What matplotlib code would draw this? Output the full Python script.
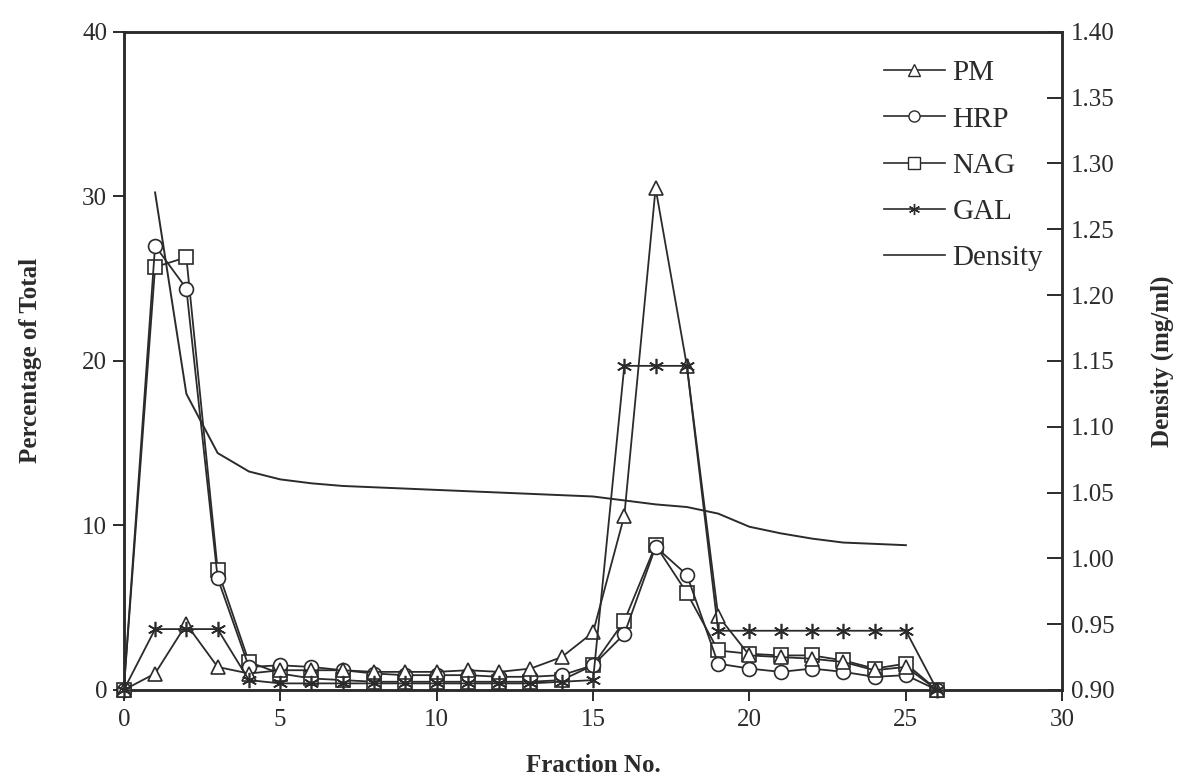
import matplotlib
matplotlib.use("Agg")
import matplotlib.pyplot as plt
from matplotlib.lines import Line2D

plt.rcParams['font.family'] = ['Liberation Serif', 'DejaVu Serif']

# Fraction numbers of the gradient
fractions = list(range(0, 27))

# Percentage of total activity per fraction
pm = [0, 1.0, 4.0, 1.4, 1.0, 1.2, 1.2, 1.2, 1.1, 1.1, 1.1, 1.2, 1.1, 1.3,
      2.0, 3.5, 10.6, 30.5, 19.7, 4.5, 2.1, 2.0, 1.9, 1.7, 1.2, 1.4, 0]
hrp = [0, 27.0, 24.4, 6.8, 1.4, 1.5, 1.4, 1.2, 1.0, 0.9, 0.9, 0.9, 0.8, 0.8,
       0.9, 1.5, 3.4, 8.7, 7.0, 1.6, 1.3, 1.1, 1.3, 1.1, 0.8, 0.9, 0]
nag = [0, 25.7, 26.3, 7.3, 1.7, 1.0, 0.7, 0.6, 0.5, 0.5, 0.5, 0.5, 0.5, 0.5,
       0.6, 1.5, 4.2, 8.8, 5.9, 2.4, 2.2, 2.1, 2.1, 1.8, 1.3, 1.6, 0]
gal = [0, 3.7, 3.7, 3.7, 0.6, 0.4, 0.4, 0.4, 0.4, 0.4, 0.4, 0.4, 0.4, 0.4,
       0.5, 0.6, 19.7, 19.7, 19.7, 3.6, 3.6, 3.6, 3.6, 3.6, 3.6, 3.6, 0]

# Density of the gradient (fractions 1-25)
density_fractions = list(range(1, 26))
density = [1.278, 1.125, 1.080, 1.066, 1.060, 1.057, 1.055, 1.054, 1.053,
           1.052, 1.051, 1.050, 1.049, 1.048, 1.047, 1.044, 1.041, 1.039,
           1.034, 1.024, 1.019, 1.015, 1.012, 1.011, 1.010]

xticks = [0, 5, 10, 15, 20, 25, 30]
yticks_left = [0, 10, 20, 30, 40]
yticks_right = [0.90, 0.95, 1.00, 1.05, 1.10, 1.15, 1.20, 1.25, 1.30, 1.35, 1.40]

ink = '#2b2b2b'
fig = plt.figure(figsize=(11.79, 7.77), dpi=100)
ax = fig.add_axes([0.105, 0.112, 0.796, 0.847])
ax2 = ax.twinx()

common = dict(color=ink, lw=1.3, mfc='white', mec=ink, mew=1.2, clip_on=False)
ax.plot(fractions, pm, marker='^', ms=10, zorder=5, **common)
ax.plot(fractions, hrp, marker='o', ms=10, zorder=4, **common)
ax.plot(fractions, nag, marker='s', ms=10, zorder=3, **common)
ax.plot(fractions, gal, marker=(6, 2, 0), ms=11, zorder=6, **common)
ax2.plot(density_fractions, density, color=ink, lw=1.4)

ax.set_xlim(0, 30)
ax.set_ylim(0, 40)
ax2.set_ylim(0.90, 1.40)
ax.set_xticks(xticks)
ax.set_yticks(yticks_left)
ax2.set_yticks(yticks_right)
ax2.set_yticklabels([f"{v:.2f}" for v in yticks_right])

for a in (ax, ax2):
    for s in a.spines.values():
        s.set_color(ink)
        s.set_linewidth(1.8)

ax.tick_params(axis='both', direction='out', length=8, width=1.4, colors=ink,
               labelsize=18, labelcolor=ink, pad=4)
ax.tick_params(axis='x', pad=6)
ax2.tick_params(axis='y', direction='in', length=11, width=1.4, colors=ink,
                labelsize=18, labelcolor=ink, pad=6)

ax.set_xlabel('Fraction No.', fontsize=18, fontweight='bold', color=ink, labelpad=16)
ax.set_ylabel('Percentage of Total', fontsize=18, fontweight='bold', color=ink, labelpad=29)
ax2.set_ylabel('Density (mg/ml)', fontsize=18, fontweight='bold', color=ink, labelpad=26)

handles = [
    Line2D([], [], color=ink, lw=1.2, marker='^', ms=8, mfc='white', mec=ink),
    Line2D([], [], color=ink, lw=1.2, marker='o', ms=8, mfc='white', mec=ink),
    Line2D([], [], color=ink, lw=1.2, marker='s', ms=8, mfc='white', mec=ink),
    Line2D([], [], color=ink, lw=1.2, marker=(6, 2, 0), ms=8, mec=ink),
    Line2D([], [], color=ink, lw=1.2),
]
labels = ['PM', 'HRP', 'NAG', 'GAL', 'Density']
leg = ax2.legend(handles, labels, loc='upper right',
                 bbox_to_anchor=(1043 / 1179, 1 - 60 / 777),
                 bbox_transform=fig.transFigure, borderpad=0, borderaxespad=0,
                 frameon=False, fontsize=21, handlelength=2.1, handletextpad=0.25,
                 labelspacing=0.68, labelcolor=ink)

fig.savefig('out.png', dpi=100)
